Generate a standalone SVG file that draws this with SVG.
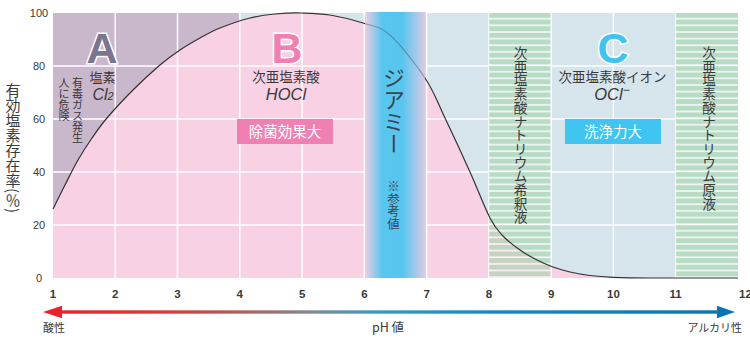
<svg xmlns="http://www.w3.org/2000/svg" width="750" height="340" viewBox="0 0 750 340">
<defs>
<style>
.jp{font-family:"Noto Sans CJK JP","Noto Sans",sans-serif;fill:#3a3a3a}
.num{font-family:"Liberation Sans",Arial,sans-serif;fill:#3a3a3a}
.vt{writing-mode:vertical-rl}
.big{font-family:"Liberation Sans",Arial,sans-serif;font-weight:bold;font-size:43px;stroke:#fff;stroke-width:3;paint-order:stroke;text-anchor:middle}
.it{font-family:"Liberation Sans",Arial,sans-serif;font-style:italic;fill:#3a3a3a;text-anchor:middle}
.mid{text-anchor:middle}
.grid line{stroke:#fff;stroke-width:1.5}
.band{fill:url(#stripe);opacity:0.62}
.curve{fill:none;stroke:#333;stroke-width:1.2}
</style>
<pattern id="stripe" patternUnits="userSpaceOnUse" x="0" y="13" width="10" height="6.625">
<rect width="10" height="6.625" fill="#a5d6ac"/>
<rect y="4.9" width="10" height="1.725" fill="#fff"/>
</pattern>
<linearGradient id="gband" x1="0" x2="1" y1="0" y2="0">
<stop offset="0" stop-color="#eccde3"/>
<stop offset="0.28" stop-color="#58c6ef"/>
<stop offset="0.62" stop-color="#58c5ee"/>
<stop offset="1" stop-color="#dccbe5"/>
</linearGradient>
<linearGradient id="garrow" gradientUnits="userSpaceOnUse" x1="43" y1="0" x2="738" y2="0">
<stop offset="0" stop-color="#e8212a"/>
<stop offset="0.12" stop-color="#e0302e"/>
<stop offset="0.28" stop-color="#b0605a"/>
<stop offset="0.38" stop-color="#848a8e"/>
<stop offset="0.48" stop-color="#3a9cc0"/>
<stop offset="0.65" stop-color="#1488c2"/>
<stop offset="1" stop-color="#0a74b0"/>
</linearGradient>
<clipPath id="inBand"><rect x="365" y="12" width="60" height="266"/></clipPath>
<clipPath id="outBand"><path d="M0,0H365V340H0Z M425,0H750V340H425Z"/></clipPath>
<path id="cv" d="M53,209 C55,205 60.8,193.2 65,185 C69.2,176.8 73.5,167.8 78,160 C82.5,152.2 87.2,145 92,138 C96.8,131 100.2,126 107,118 C113.8,110 124.2,98.8 133,90 C141.8,81.2 152.2,71.7 160,65 C167.8,58.3 173.3,54.5 180,50 C186.7,45.5 193.3,41.7 200,38 C206.7,34.3 211.7,31.3 220,28 C228.3,24.7 240.8,20.3 250,18 C259.2,15.7 266.3,14.8 275,14 C283.7,13.2 292.8,12.8 302,13 C311.2,13.2 319.8,13.3 330,15 C340.2,16.7 353,19.7 363,23 C373,26.3 379.7,25.8 390,35 C400.3,44.2 415.8,64.2 425,78 C434.2,91.8 437.5,102.3 445,118 C452.5,133.7 462.5,155.3 470,172 C477.5,188.7 484.5,207.3 490,218 C495.5,228.7 498,230.7 503,236 C508,241.3 514.3,246 520,250 C525.7,254 531.5,257.2 537,260 C542.5,262.8 547.5,265 553,267 C558.5,269 563.8,270.6 570,272 C576.2,273.4 582.8,274.6 590,275.5 C597.2,276.4 603,276.9 613,277.3 C623,277.7 629.2,277.9 650,278 L738,278"/>
</defs>

<g id="plot-background">
<rect x="53" y="13" width="187" height="265" fill="#c9b7cc"/>
<rect x="240" y="13" width="498" height="265" fill="#d6e4eb"/>
<path d="M53,209 C55,205 60.8,193.2 65,185 C69.2,176.8 73.5,167.8 78,160 C82.5,152.2 87.2,145 92,138 C96.8,131 100.2,126 107,118 C113.8,110 124.2,98.8 133,90 C141.8,81.2 152.2,71.7 160,65 C167.8,58.3 173.3,54.5 180,50 C186.7,45.5 193.3,41.7 200,38 C206.7,34.3 211.7,31.3 220,28 C228.3,24.7 240.8,20.3 250,18 C259.2,15.7 266.3,14.8 275,14 C283.7,13.2 292.8,12.8 302,13 C311.2,13.2 319.8,13.3 330,15 C340.2,16.7 353,19.7 363,23 C373,26.3 379.7,25.8 390,35 C400.3,44.2 415.8,64.2 425,78 C434.2,91.8 437.5,102.3 445,118 C452.5,133.7 462.5,155.3 470,172 C477.5,188.7 484.5,207.3 490,218 C495.5,228.7 498,230.7 503,236 C508,241.3 514.3,246 520,250 C525.7,254 531.5,257.2 537,260 C542.5,262.8 547.5,265 553,267 C558.5,269 563.8,270.6 570,272 C576.2,273.4 582.8,274.6 590,275.5 C597.2,276.4 603,276.9 613,277.3 C623,277.7 629.2,277.9 650,278 L738,278 L53,278 Z" fill="#f8d1e4"/>
</g>

<g id="grid" class="grid">
<line x1="115.3" y1="13" x2="115.3" y2="278"/>
<line x1="177.5" y1="13" x2="177.5" y2="278"/>
<line x1="239.8" y1="13" x2="239.8" y2="278"/>
<line x1="302.1" y1="13" x2="302.1" y2="278"/>
<line x1="364.4" y1="13" x2="364.4" y2="278"/>
<line x1="426.6" y1="13" x2="426.6" y2="278"/>
<line x1="488.9" y1="13" x2="488.9" y2="278"/>
<line x1="551.2" y1="13" x2="551.2" y2="278"/>
<line x1="613.4" y1="13" x2="613.4" y2="278"/>
<line x1="675.7" y1="13" x2="675.7" y2="278"/>
<line x1="53" y1="66" x2="738" y2="66"/>
<line x1="53" y1="119" x2="738" y2="119"/>
<line x1="53" y1="172" x2="738" y2="172"/>
<line x1="53" y1="225" x2="738" y2="225"/>
</g>

<g id="band-dilute">
<rect class="band" x="488.9" y="13" width="61.5" height="265"/>
</g>
<g id="band-stock">
<rect class="band" x="675.7" y="13" width="62.3" height="265"/>
</g>
<g id="band-jiami">
<rect x="365.2" y="12" width="60.4" height="266" fill="url(#gband)"/>
</g>

<g id="connectors">
<use href="#cv" class="curve" clip-path="url(#outBand)"/>
<use href="#cv" class="curve" clip-path="url(#inBand)" style="stroke:#4a5560;opacity:0.45"/>
</g>

<g id="y-axis">
<text class="jp vt" x="13" y="83" font-size="15">有効塩素存在率(％)</text>
<g class="num mid" font-size="11">
<text x="39" y="17">100</text>
<text x="39" y="70">80</text>
<text x="39" y="123">60</text>
<text x="39" y="176">40</text>
<text x="39" y="229">20</text>
<text x="39" y="282">0</text>
</g>
</g>

<g id="x-axis">
<g class="num mid" font-size="11.5" font-weight="bold">
<text x="53" y="297.5">1</text>
<text x="115.3" y="297.5">2</text>
<text x="177.5" y="297.5">3</text>
<text x="239.8" y="297.5">4</text>
<text x="302.1" y="297.5">5</text>
<text x="364.4" y="297.5">6</text>
<text x="426.6" y="297.5">7</text>
<text x="488.9" y="297.5">8</text>
<text x="551.2" y="297.5">9</text>
<text x="613.4" y="297.5">10</text>
<text x="675.7" y="297.5">11</text>
<text x="745.5" y="297.5">12</text>
</g>
</g>

<g id="ph-arrow">
<rect x="60" y="310.3" width="660" height="3.4" fill="url(#garrow)"/>
<path d="M43,312 L62,305.8 L62,318.2 Z" fill="#e8212a"/>
<path d="M735,312 L717,305.8 L717,318.2 Z" fill="#0a74b0"/>
<text class="jp" x="43" y="332" font-size="11">酸性</text>
<text class="jp mid" x="388" y="332" font-size="12.5">pH 値</text>
<text class="jp" x="742" y="332" font-size="11" text-anchor="end">アルカリ性</text>
</g>

<g id="node-A">
<text class="big" x="102" y="63" fill="#7b7590">A</text>
<text class="jp mid" x="102.5" y="82" font-size="13">塩素</text>
<text class="it" x="103" y="100" font-size="16">Cl<tspan font-size="11">2</tspan></text>
<text class="jp vt" x="77.5" y="77" font-size="11">有毒ガス発生</text>
<text class="jp vt" x="64" y="77" font-size="11">人に危険</text>
</g>

<g id="node-B">
<text class="big" x="287" y="63" fill="#f07fb2">B</text>
<text class="jp mid" x="286" y="82" font-size="13.5">次亜塩素酸</text>
<text class="it" x="286" y="100" font-size="16.5">HOCl</text>
<rect x="237" y="119" width="96" height="25" fill="#ef80b3"/>
<text class="jp mid" x="285" y="137" font-size="14.5" style="fill:#fff">除菌効果大</text>
</g>

<g id="node-jiami">
<text class="jp vt" x="394" y="67" font-size="22" style="fill:#3b4450">ジアミー</text>
<text class="jp vt" x="393.5" y="180" font-size="12.5" style="fill:#3b4450">※参考値</text>
</g>

<g id="node-C">
<text class="big" x="613" y="63" fill="#40c3ef">C</text>
<text class="jp mid" x="612.5" y="82" font-size="13.5">次亜塩素酸イオン</text>
<text class="it" x="612" y="100" font-size="16.5">OCl<tspan font-size="12" dy="-6">−</tspan></text>
<rect x="565" y="119" width="96" height="25" fill="#40c4f1"/>
<text class="jp mid" x="613" y="137" font-size="14.5" style="fill:#fff">洗浄力大</text>
</g>

<g id="node-dilute">
<text class="jp vt" x="520.7" y="46" font-size="13.7">次亜塩素酸ナトリウム希釈液</text>
</g>
<g id="node-stock">
<text class="jp vt" x="709" y="46" font-size="13.7">次亜塩素酸ナトリウム原液</text>
</g>
</svg>
